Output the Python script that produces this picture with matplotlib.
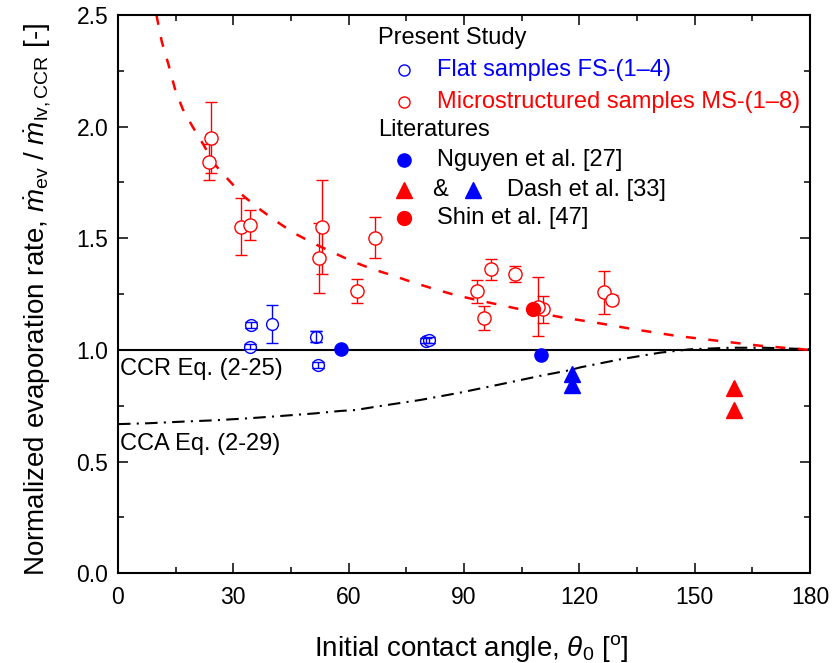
import matplotlib
matplotlib.use("Agg")
import matplotlib.pyplot as plt
import numpy as np
from matplotlib.ticker import MultipleLocator

plt.rcParams['font.family'] = ['Liberation Sans', 'DejaVu Sans']
plt.rcParams['mathtext.fontset'] = 'custom'
plt.rcParams['mathtext.rm'] = 'Liberation Sans'
plt.rcParams['mathtext.it'] = 'Liberation Sans:italic'
plt.rcParams['mathtext.bf'] = 'Liberation Sans:bold'

RED = '#ff0000'
BLUE = '#0000ff'

# Present study: microstructured samples (MS)
ms_theta = [24.2, 23.75, 32.0, 34.3, 53.1, 52.3, 62.1, 66.9, 96.95, 103.2,
            93.5, 95.3, 110.6, 109.3, 126.5, 128.6]
ms_ratio = [1.950, 1.843, 1.552, 1.560, 1.549, 1.413, 1.264, 1.503, 1.361, 1.340,
            1.263, 1.145, 1.182, 1.194, 1.258, 1.224]
ms_err = [0.159, 0.080, 0.127, 0.066, 0.210, 0.156, 0.054, 0.092, 0.048, 0.034,
          0.051, 0.054, 0.060, 0.131, 0.097, 0.020]

# Present study: flat samples (FS)
fs_theta = [34.6, 34.3, 40.1, 51.4, 52.1, 80.2, 80.9]
fs_ratio = [1.112, 1.015, 1.116, 1.060, 0.933, 1.042, 1.044]
fs_err = [0.012, 0.012, 0.085, 0.025, 0.012, 0.012, 0.012]

# Literature data
nguyen_theta = [58.0, 110.1]
nguyen_ratio = [1.003, 0.978]
dash_blue_theta = [118.2, 118.2]
dash_blue_ratio = [0.892, 0.841]
dash_red_theta = [160.2, 160.2]
dash_red_ratio = [0.828, 0.731]
shin_theta = [108.0]
shin_ratio = [1.184]

# CCR reference level, Eq. (2-25)
ccr_theta = [0, 180]
ccr_ratio = [1.0, 1.0]

# CCA curve, Eq. (2-29)
cca_theta = [0.0, 8.0, 16.6, 25.0, 33.9, 42.0, 51.2, 57.8, 61.7, 68.2, 78.6, 89.0,
             99.4, 109.8, 117.6, 120.2, 130.6, 141.0, 148.8, 159.2, 168.0, 174.0, 180.0]
cca_ratio = [0.668, 0.672, 0.679, 0.685, 0.694, 0.704, 0.716, 0.727, 0.731, 0.749, 0.776,
             0.809, 0.846, 0.884, 0.910, 0.922, 0.958, 0.988, 1.003, 1.010, 1.010, 1.007, 1.003]

# Microstructured trend curve
trend_theta = [10.0, 11.4, 13.1, 14.8, 16.8, 19.4, 22.2, 25.2, 28.3, 32.6, 36.9, 41.3,
               45.6, 50.8, 56.0, 61.2, 66.4, 71.6, 76.8, 82.5, 87.7, 93.3, 98.5,
               104.1, 115.4, 123.4, 134.1, 145.3, 156.6, 167.0, 177.4, 180.0]
trend_ratio = [2.50, 2.38, 2.28, 2.17, 2.08, 2.00, 1.92, 1.83, 1.77, 1.69, 1.63, 1.575,
               1.525, 1.478, 1.436, 1.395, 1.361, 1.333, 1.302, 1.272, 1.246, 1.224, 1.205,
               1.184, 1.146, 1.125, 1.093, 1.063, 1.040, 1.019, 1.004, 1.000]

x_ticks = [0, 30, 60, 90, 120, 150, 180]
y_ticks = [0.0, 0.5, 1.0, 1.5, 2.0, 2.5]

fig = plt.figure(figsize=(8.32, 6.63), dpi=100)
ax = fig.add_axes([118 / 832, 1 - 573.3 / 663, 692 / 832, 558.3 / 663])

# reference curves
ax.plot(ccr_theta, ccr_ratio, color='black', lw=1.5, zorder=2)
ax.plot(cca_theta, cca_ratio, color='black', lw=1.5,
        linestyle=(0, (6, 3, 1, 3)), zorder=2)
ax.plot(trend_theta, trend_ratio, color=RED, lw=1.8,
        linestyle=(0, (4, 5)), zorder=2)

# microstructured samples
ax.errorbar(ms_theta, ms_ratio, yerr=ms_err, fmt='none', ecolor=RED,
            elinewidth=1.0, capsize=4.5, capthick=1.0, zorder=3)
ax.plot(ms_theta, ms_ratio, 'o', ms=9.5, mfc='white', mec=RED, mew=1.0,
        linestyle='none', zorder=4)

# flat samples
fs_theta_a = np.array(fs_theta)
fs_ratio_a = np.array(fs_ratio)
fs_err_a = np.array(fs_err)
ax.errorbar(fs_theta_a, fs_ratio_a, yerr=fs_err_a, fmt='none', ecolor=BLUE,
            elinewidth=1.0, capsize=4.5, capthick=1.0, zorder=3)
ax.plot(fs_theta_a, fs_ratio_a, 'o', ms=8.5, mfc='white', mec=BLUE, mew=1.0,
        linestyle='none', zorder=4)
small = fs_err_a < 0.03
ax.errorbar(fs_theta_a[small], fs_ratio_a[small], yerr=fs_err_a[small], fmt='none',
            ecolor=BLUE, elinewidth=1.0, capsize=4.5, capthick=1.0, zorder=5)

# literature
ax.plot(nguyen_theta, nguyen_ratio, 'o', ms=9.5, color=BLUE, linestyle='none', zorder=6)
ax.plot(shin_theta, shin_ratio, 'o', ms=10, color=RED, linestyle='none', zorder=6)
ax.plot(dash_blue_theta, dash_blue_ratio, '^', ms=11, color=BLUE, linestyle='none', zorder=6)
ax.plot(dash_red_theta, dash_red_ratio, '^', ms=11, color=RED, linestyle='none', zorder=6)

# curve labels
ax.text(0.6, 0.917, 'CCR Eq. (2-25)', fontsize=17, va='center', ha='left')
ax.text(0.6, 0.58, 'CCA Eq. (2-29)', fontsize=17, va='center', ha='left')

# legend block
def fx(px):
    return (px - 118) / 692

def fy(py):
    return (573.3 - py) / 558.3

tr = ax.transAxes
fs_leg = 17
ax.text(fx(378), fy(38), 'Present Study', transform=tr, fontsize=fs_leg, va='center')
ax.plot([fx(404)], [fy(70)], 'o', ms=8, mfc='none', mec=BLUE, mew=1.0, transform=tr)
ax.text(fx(437), fy(70), 'Flat samples FS-(1\u20134)', transform=tr, fontsize=fs_leg,
        va='center', color=BLUE)
ax.plot([fx(404)], [fy(101.7)], 'o', ms=8, mfc='none', mec=RED, mew=1.0, transform=tr)
ax.text(fx(437), fy(101.7), 'Microstructured samples MS-(1\u20138)', transform=tr,
        fontsize=fs_leg, va='center', color=RED)
ax.text(fx(378), fy(130), 'Literatures', transform=tr, fontsize=fs_leg, va='center')
ax.plot([fx(404)], [fy(160)], 'o', ms=9.5, color=BLUE, transform=tr)
ax.text(fx(437), fy(160), 'Nguyen et al. [27]', transform=tr, fontsize=fs_leg, va='center')
ax.plot([fx(404)], [fy(190)], '^', ms=11, color=RED, transform=tr)
ax.text(fx(432), fy(190), '&', transform=tr, fontsize=fs_leg, va='center')
ax.plot([fx(472.7)], [fy(190)], '^', ms=11, color=BLUE, transform=tr)
ax.text(fx(506.7), fy(190), 'Dash et al. [33]', transform=tr, fontsize=fs_leg, va='center')
ax.plot([fx(404)], [fy(218)], 'o', ms=10, color=RED, transform=tr)
ax.text(fx(437), fy(218), 'Shin et al. [47]', transform=tr, fontsize=fs_leg, va='center')

# axes styling
ax.set_xlim(0, 180)
ax.set_ylim(0, 2.5)
ax.set_xticks(x_ticks)
ax.set_yticks(y_ticks)
ax.set_yticklabels([f'{v:.1f}' for v in y_ticks])
ax.xaxis.set_minor_locator(MultipleLocator(15))
ax.yaxis.set_minor_locator(MultipleLocator(0.25))
ax.tick_params(which='both', direction='in', top=True, right=True, labelsize=16.5)
ax.tick_params(which='major', length=7.5, width=1.1)
ax.tick_params(which='minor', length=4, width=1.1)
ax.tick_params(axis='x', pad=9)
ax.tick_params(axis='y', pad=7)
for sp in ax.spines.values():
    sp.set_linewidth(1.5)

ax.set_xlabel(r'Initial contact angle, $\mathit{\theta_0}$ [$^{\mathrm{o}}$]', fontsize=20)
ax.set_ylabel(r'Normalized evaporation rate, $\dot{m}_{\mathrm{ev}}$ / $\dot{m}_{\mathrm{lv,CCR}}$ [-]',
              fontsize=20)
ax.xaxis.set_label_coords(0.51, -0.107)
ax.yaxis.set_label_coords(-0.094, 0.49)

fig.savefig('out.png', dpi=100)
